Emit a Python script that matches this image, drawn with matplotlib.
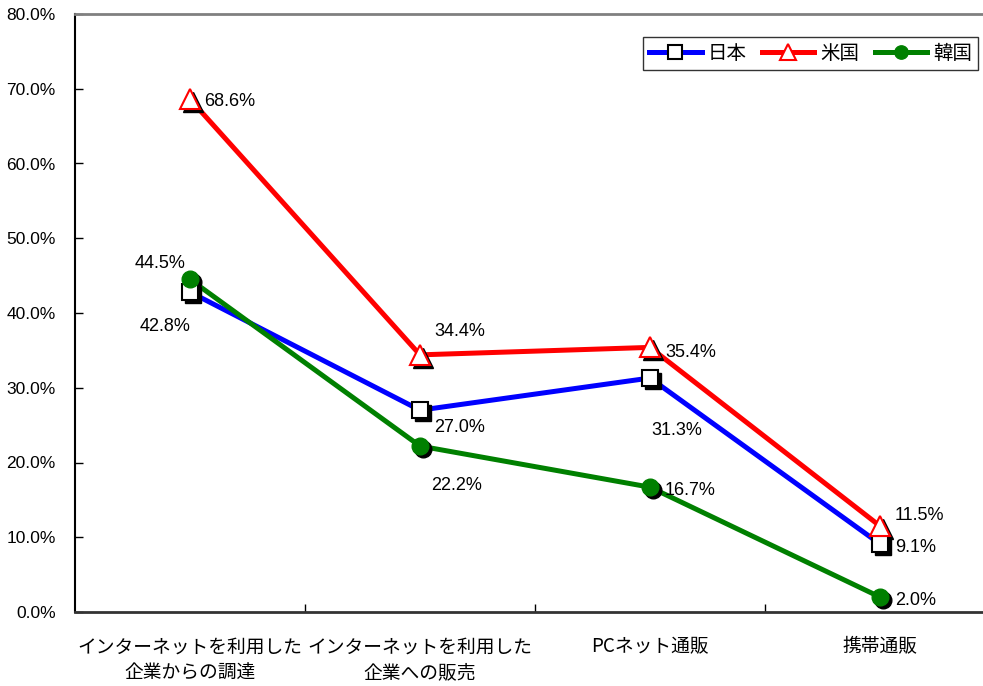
import matplotlib
matplotlib.use("Agg")
import matplotlib.pyplot as plt
import matplotlib.transforms as mtransforms

plt.rcParams['font.family'] = ['Liberation Sans Narrow', 'Liberation Sans', 'Noto Sans CJK JP', 'DejaVu Sans']

# data
categories = ['インターネットを利用した\n企業からの調達', 'インターネットを利用した\n企業への販売',
              'PCネット通販', '携帯通販']
japan = [42.8, 27.0, 31.3, 9.1]
usa = [68.6, 34.4, 35.4, 11.5]
korea = [44.5, 22.2, 16.7, 2.0]
series_names = ['日本', '米国', '韓国']
yticks = [0, 10, 20, 30, 40, 50, 60, 70, 80]

# label offsets in pixels (dx, dy) from each point
jp_off = [(-25, -34), (40, -17), (27, -52), (36, -4)]
us_off = [(40, -2), (40, 23), (41, -5), (39, 11)]
kr_off = [(-30, 16), (37, -39), (40, -3), (36, -3)]

fig = plt.figure(figsize=(9.83, 6.86), dpi=100)
ax = fig.add_axes([75/983, (686-612)/686, (995-75)/983, 598/686])

x = list(range(len(categories)))
shadow = mtransforms.offset_copy(ax.transData, fig=fig, x=3, y=-3, units='dots')

styles = [
    (japan, 'blue', 's', dict(markerfacecolor='white', markeredgecolor='black', markersize=12, markeredgewidth=1.5)),
    (usa, 'red', '^', dict(markerfacecolor='white', markeredgecolor='red', markersize=14, markeredgewidth=1.5)),
    (korea, 'green', 'o', dict(markerfacecolor='green', markeredgecolor='green', markersize=12, markeredgewidth=1)),
]
handles = []
for (vals, col, mk, kw), name in zip(styles, series_names):
    ax.plot(x, vals, color=col, lw=3.6, zorder=2)
for (vals, col, mk, kw), name in zip(styles, series_names):
    # drop shadow under the markers
    ax.plot(x, vals, ls='none', marker=mk, color='black', markersize=kw['markersize'],
            markeredgecolor='black', transform=shadow, zorder=3)
    ax.plot(x, vals, ls='none', marker=mk, zorder=4, **kw)
    lkw = dict(kw)
    lkw['markersize'] = kw['markersize'] * 0.8
    h, = ax.plot([], [], color=col, lw=3.6, marker=mk, **lkw)
    handles.append(h)

for vals, offs in [(japan, jp_off), (usa, us_off), (korea, kr_off)]:
    for xi, v, (dx, dy) in zip(x, vals, offs):
        ax.annotate(f'{v:.1f}%', (xi, v), xytext=(dx, dy), textcoords='offset pixels',
                    ha='center', va='center', fontsize=13)

ax.set_xlim(-0.5, 3.5)
ax.set_ylim(0, 80)
ax.set_yticks(yticks)
ax.set_yticklabels([f'{t:.1f}%' for t in yticks], fontsize=12.5)
ax.set_xticks([0.5, 1.5, 2.5])
ax.set_xticklabels([])
ax.tick_params(axis='both', direction='in', length=6, width=1, colors='black')
ax.tick_params(axis='y', pad=14)
for xi, c in zip(x, categories):
    ax.text(xi, -3.3, c, ha='center', va='top', fontsize=13.5, linespacing=1.3,
            family=['Noto Sans CJK JP', 'DejaVu Sans'], clip_on=False)

ax.spines['top'].set_color('#808080')
ax.spines['top'].set_linewidth(2)
ax.spines['right'].set_visible(False)
ax.spines['left'].set_linewidth(1.5)
ax.spines['bottom'].set_linewidth(2)
ax.spines['bottom'].set_color('#333333')

leg = ax.legend(handles, series_names, ncol=3, loc='upper right',
                bbox_to_anchor=(978/983, 1 - 37/686), bbox_transform=fig.transFigure,
                frameon=True, fancybox=False,
                prop={'family': ['Noto Sans CJK JP'], 'size': 14}, handlelength=2.7,
                handletextpad=0.3, columnspacing=0.8, borderpad=0.3, borderaxespad=0)
leg.get_frame().set_edgecolor('black')
leg.get_frame().set_linewidth(1)

fig.savefig('out.png', dpi=100)
